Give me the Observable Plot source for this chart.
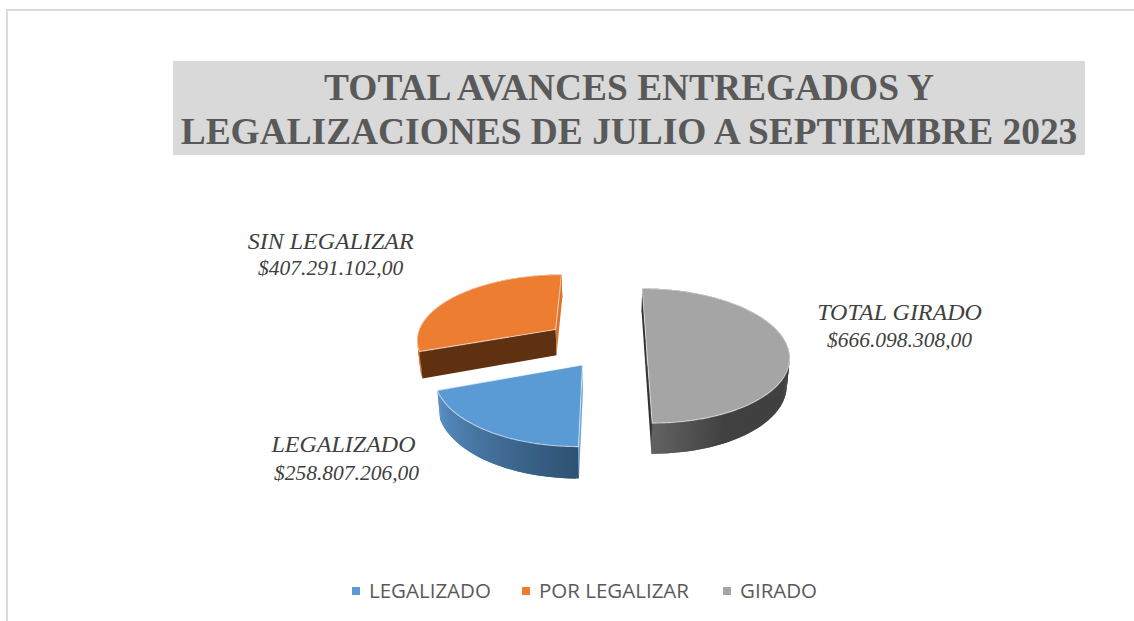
<!DOCTYPE html>
<html lang="es">
<head>
<meta charset="utf-8">
<script src="https://cdn.jsdelivr.net/npm/d3@7"></script>
<script src="https://cdn.jsdelivr.net/npm/@observablehq/plot@0.6"></script>
<style>
  html, body { margin: 0; padding: 0; background: #fff; }
  #page { position: relative; width: 1134px; height: 621px; overflow: hidden; }
  #page svg { position: absolute; left: 0; top: 0; background: transparent; }
  #frame { position: absolute; left: 6px; top: 9px; right: 0; bottom: 0;
           border-left: 2px solid #dcdcdc; border-top: 2px solid #dcdcdc; }
  #title { position: absolute; left: 173px; top: 61px; width: 912px; height: 94px;
           background: #d9d9d9; color: #595959; text-align: center; font: bold 37.4px/44px "Liberation Serif", serif; }
  #title div { white-space: nowrap; position: relative; top: 5px; }
  .key { position: absolute; top: 576px; font: 20.5px/28px "Open Sans", sans-serif; color: #595959; white-space: nowrap; }
  .key i { position: absolute; left: -17px; top: 11px; width: 8px; height: 8px; }
</style>
</head>
<body>
<div id="page">
  <div id="frame"></div>
  <div id="title"><div>TOTAL AVANCES ENTREGADOS Y</div><div>LEGALIZACIONES DE JULIO A SEPTIEMBRE 2023</div></div>
</div>
<script>
// Data
const categories = ["LEGALIZADO", "POR LEGALIZAR", "GIRADO"];
const labels = ["LEGALIZADO", "SIN LEGALIZAR", "TOTAL GIRADO"];
const values = [258807206, 407291102, 666098308];
const colors = ["#5b9bd5", "#ed7d31", "#a5a5a5"];

// Style and camera
const wallStops = [
  [[0, "#2e5272"], [1, "#5a90c6"]],
  [[0, "#d0702c"], [1, "#b05c22"]],
  [[0, "#4c4c4c"], [0.45, "#404040"], [0.85, "#414141"], [1, "#626262"]]
];
// colours of each slice's two straight cuts (start, end); null = turned away from the camera
const cutColors = [["#6aa3da", null], ["#5f3111", "#d9752f"], ["#333333", "#333333"]];
const explode = [0.0855, 0.13, 0.074];
const legendX = [369, 539, 740];
const nameOffset = [[-239, 79], [-225, -88], [253, -35]];
const valueOffset = [[-236, 108], [-225, -61], [253, -7]];
const cam = {vx: 608, vy: -167, F: 1076, cz: 2.095, Rx: 0.275, Rz: 0.27, H: 0.052, conv: 0.016};

// Perspective: a ground point (X, Z) at drop h (0 = top face, 1 = bottom)
function project(X, Z, h) {
  const s = cam.F / Z;
  return {
    x: cam.vx + X * s * (1 - h * cam.conv),
    y: cam.vy + s * (1 + h * cam.H)
  };
}

const fmt = d3.formatLocale({decimal: ",", thousands: ".", grouping: [3], currency: ["$", ""]}).format("$,.2f");

// The pie starts at 180° for the first slice and runs clockwise, seen from above
const pie = d3.pie().sort(null).startAngle(Math.PI).endAngle(3 * Math.PI)(values);
const order = [1, 0, 2];

const rows = {walls: [], chords: [], tops: []};
const anchors = [];
let id = 0;
const deg = Math.PI / 180;

pie.forEach((p, i) => {
  const a0 = p.startAngle, a1 = p.endAngle, mid = (a0 + a1) / 2;
  const ax = explode[i] * Math.sin(mid), az = cam.cz + explode[i] * Math.cos(mid);
  const rim = (a, h) => project(ax + cam.Rx * Math.sin(a), az + cam.Rz * Math.cos(a), h);
  const apex = h => project(ax, az, h);
  anchors[i] = {...apex(0), i};
  const stops = wallStops[i];
  const shade = d3.scaleLinear().domain(stops.map(d => d[0])).range(stops.map(d => d[1])).interpolate(d3.interpolateRgb);
  const n = Math.ceil((a1 - a0) / deg);
  const step = (a1 - a0) / n;
  for (let k = 0; k < n; k++) {
    // each band overlaps the next one, so no seam shows between them
    const u = a0 + k * step, v = Math.min(u + 2 * step, a1), color = shade((k + 0.5) / n);
    id++;
    [rim(u, 0), rim(v, 0), rim(v, 1), rim(u, 1)].forEach(q => rows.walls.push({...q, id, color, slice: i}));
  }
  [a0, a1].forEach((a, e) => {
    const color = cutColors[i][e];
    if (!color) return;
    id++;
    [apex(0), rim(a, 0), rim(a, 1), apex(1)].forEach(q => rows.chords.push({...q, id, slice: i, color}));
  });
  id++;
  const face = [apex(0)];
  for (let k = 0; k <= n; k++) face.push(rim(a0 + k * step, 0));
  face.push(apex(0));
  face.forEach(q => rows.tops.push({...q, id, color: colors[i], slice: i}));
});

const area = (data, extra = {}) => Plot.line(data, {x: "x", y: "y", z: "id", fill: "color", curve: "linear", ...extra});

const marks = [];
order.forEach(i => {
  marks.push(area(rows.walls.filter(d => d.slice === i), {stroke: "none"}));
  marks.push(area(rows.chords.filter(d => d.slice === i), {stroke: "none"}));
  marks.push(area(rows.tops.filter(d => d.slice === i), {stroke: "#ffffff", strokeOpacity: 0.55, strokeWidth: 1.1}));
});

const textStyle = {fontFamily: "Liberation Serif", fontStyle: "italic", fill: "#404040", textAnchor: "middle", lineAnchor: "middle"};
anchors.forEach(a => {
  const i = a.i;
  marks.push(Plot.text([a], {x: "x", y: "y", text: () => labels[i], dx: nameOffset[i][0], dy: nameOffset[i][1], fontSize: 24, ...textStyle}));
  marks.push(Plot.text([a], {x: "x", y: "y", text: () => fmt(values[i]), dx: valueOffset[i][0], dy: valueOffset[i][1], fontSize: 21.5, ...textStyle}));
});

const chart = Plot.plot({
  width: 1134, height: 621,
  margin: 0,
  x: {domain: [0, 1134], range: [0, 1134], axis: null},
  y: {domain: [0, 621], range: [0, 621], axis: null},
  color: {type: "identity"},
  marks
});
const page = document.getElementById("page");
page.insertBefore(chart, document.getElementById("title"));

categories.forEach((c, i) => {
  const k = document.createElement("div");
  k.className = "key";
  k.style.left = legendX[i] + "px";
  k.innerHTML = `<i style="background:${colors[i]}"></i>${c}`;
  page.appendChild(k);
});
</script>
</body>
</html>
